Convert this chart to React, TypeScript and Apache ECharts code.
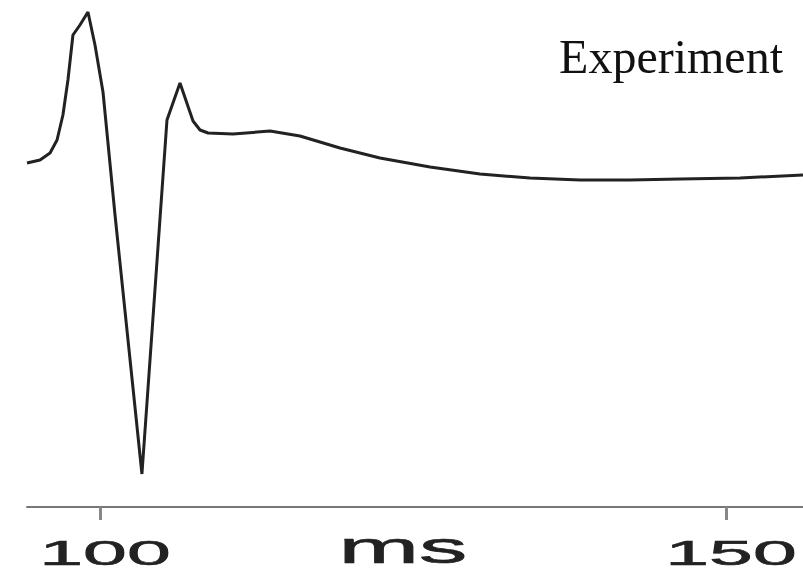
import React, { useEffect, useRef } from "react";
import * as echarts from "echarts";

const timeMs = [
  94.17, 95.21, 96.01, 96.57, 97.04, 97.44, 97.84, 98.4, 99.04, 99.6, 100.24,
  101.2, 103.35, 105.35, 106.39, 107.43, 107.99, 108.63, 110.62, 113.58, 115.97,
  119.17, 122.36, 126.36, 130.35, 134.35, 138.34, 142.33, 146.33, 151.12, 156.15,
];
const signal = [
  -0.3, 0.0, 0.7, 2.0, 4.5, 8.0, 12.5, 13.5, 14.8, 11.5, 6.8,
  -5.5, -31.4, 4.0, 7.7, 3.9, 3.0, 2.7, 2.6, 2.9, 2.4,
  1.2, 0.2, -0.7, -1.4, -1.8, -2.0, -2.0, -1.9, -1.8, -1.5,
];
const tickValues = [100, 150];
const tickLabels = ["100", "150"];
const axisName = "ms";
const seriesName = "Experiment";

export default function App() {
  const ref = useRef<HTMLDivElement>(null);
  useEffect(() => {
    if (!ref.current) return;
    const chart = echarts.init(ref.current, null, { renderer: "svg" });
    const data = timeMs.map((t, i) => [t, signal[i]]);
    chart.setOption({
      animation: false,
      grid: { left: 27, right: 0, top: 0, bottom: 67 },
      xAxis: {
        type: "value",
        min: 94.17,
        max: 156.15,
        axisLine: { show: true, onZero: false, lineStyle: { color: "#777", width: 2 } },
        axisTick: {
          show: true,
          customValues: tickValues,
          length: 13,
          lineStyle: { color: "#888", width: 3 },
        },
        axisLabel: { show: false },
        splitLine: { show: false },
      },
      yAxis: {
        type: "value",
        min: -34.7,
        max: 16,
        show: false,
        splitLine: { show: false },
      },
      series: [
        {
          name: seriesName,
          type: "line",
          data,
          showSymbol: false,
          symbol: "none",
          lineStyle: { color: "#222", width: 3 },
        },
      ],
    });
    const y0 = chart.convertToPixel({ gridIndex: 0 }, [100, -34.7])[1];
    const labels: any[] = tickValues.map((v, i) => {
      const px = chart.convertToPixel({ xAxisIndex: 0 }, v) as number;
      return {
        type: "text",
        x: px + 5,
        y: y0 + 46,
        scaleX: 2.25,
        style: {
          text: tickLabels[i],
          x: 0,
          y: 0,
          font: '35px "Liberation Sans", Arial, sans-serif',
          fill: "#222",
          stroke: "#222",
          lineWidth: 0.6,
          align: "center",
          verticalAlign: "middle",
        },
      };
    });
    const midPx = chart.convertToPixel({ xAxisIndex: 0 }, 124.2) as number;
    labels.push({
      type: "text",
      x: midPx,
      y: y0 + 41,
      scaleX: 2.2,
      style: {
        text: axisName,
        x: 0,
        y: 0,
        font: '44px "Liberation Sans", Arial, sans-serif',
        fill: "#222",
        stroke: "#222",
        lineWidth: 0.6,
        align: "center",
        verticalAlign: "middle",
      },
    });
    labels.push({
      type: "text",
      right: 20,
      top: 32,
      style: {
        text: seriesName,
        font: '48px "Liberation Serif", "Times New Roman", serif',
        fill: "#111",
      },
    });
    chart.setOption({ graphic: labels });
    return () => chart.dispose();
  }, []);
  return (
    <div
      ref={ref}
      style={{ position: "fixed", left: 0, top: 0, width: 803, height: 574 }}
    />
  );
}
